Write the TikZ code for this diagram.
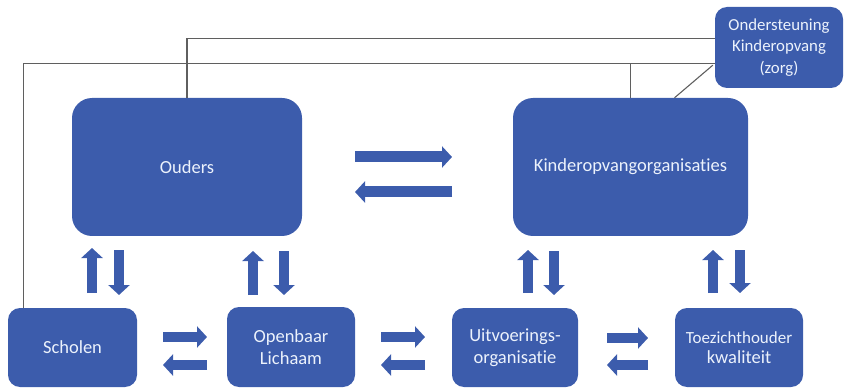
\documentclass[tikz,border=0pt]{standalone}
\usepackage{fontspec}
\setmainfont{Carlito}[Ligatures=NoCommon]
\usetikzlibrary{arrows.meta}
\definecolor{boxblue}{RGB}{60,92,172}
\definecolor{linegray}{RGB}{95,95,95}
\definecolor{boxtext}{RGB}{236,242,252}

\begin{document}
\begin{tikzpicture}[x=1pt,y=-1pt, box/.style={fill=boxblue,text=boxtext,inner sep=0pt,align=center,font=\fontsize{18.5}{22}\selectfont,rounded corners=12pt}, blockarrow/.style={draw=boxblue,line width=10pt,-{Triangle[length=10pt,width=21pt]}}, link/.style={draw=linegray,line width=1.1pt}] % organogram kinderopvang

\useasboundingbox (0,0) rectangle (846,390);

\node[box,minimum width=230,minimum height=138,rounded corners=20pt] (ouders) at (187,167) {Ouders};
\node[box,minimum width=235,minimum height=138,rounded corners=20pt] (kinder) at (630.5,167) {Kinderopvangorganisaties};
\node[box,minimum width=128,minimum height=81,font=\fontsize{16.8}{21.5}\selectfont] (onder) at (779,47.5) {Ondersteuning\\Kinderopvang\\(zorg)};

\node[box,minimum width=129,minimum height=79] (scholen) at (72.5,347.5) {Scholen};
\node[box,minimum width=128,minimum height=80] (openbaar) at (291,347) {Openbaar\\Lichaam};
\node[box,minimum width=126,minimum height=79] (uitvoer) at (515,347.5) {Uitvoerings-\\organisatie};
\node[box,minimum width=128,minimum height=79,font=\fontsize{17}{20.5}\selectfont] (toezicht) at (739,347.5) {Toezichthouder\\\fontsize{18.5}{20.5}\selectfont kwaliteit};

\draw[link] (ouders.north) |- ([yshift=9pt]onder.west);
\draw[link] ([xshift=16pt]scholen.north west) |- ([yshift=25pt]onder.south west);
\draw[link] (kinder.north) -- (kinder.north |- 0,63);
\draw[link] ([xshift=44pt]kinder.north) -- ([xshift=-2pt,yshift=23pt]onder.south west);

\draw[blockarrow,line width=11pt] (355,157) -- (452,157);
\draw[blockarrow,line width=11pt] (452,192) -- (355,192);

\draw[blockarrow] (92,293) -- (92,248);
\draw[blockarrow] (119,250) -- (119,295);
\draw[blockarrow] (253,295) -- (253,251);
\draw[blockarrow] (284,251) -- (284,295);
\draw[blockarrow] (528,293) -- (528,250);
\draw[blockarrow] (554,251) -- (554,295);
\draw[blockarrow] (713,293) -- (713,250);
\draw[blockarrow] (740,250) -- (740,293);

\draw[blockarrow] (163,337) -- (207,337);
\draw[blockarrow] (207,365) -- (163,365);
\draw[blockarrow] (381,337) -- (425,337);
\draw[blockarrow] (425,365) -- (381,365);
\draw[blockarrow] (607,338) -- (648,338);
\draw[blockarrow] (648,365) -- (607,365);

\end{tikzpicture}
\end{document}
